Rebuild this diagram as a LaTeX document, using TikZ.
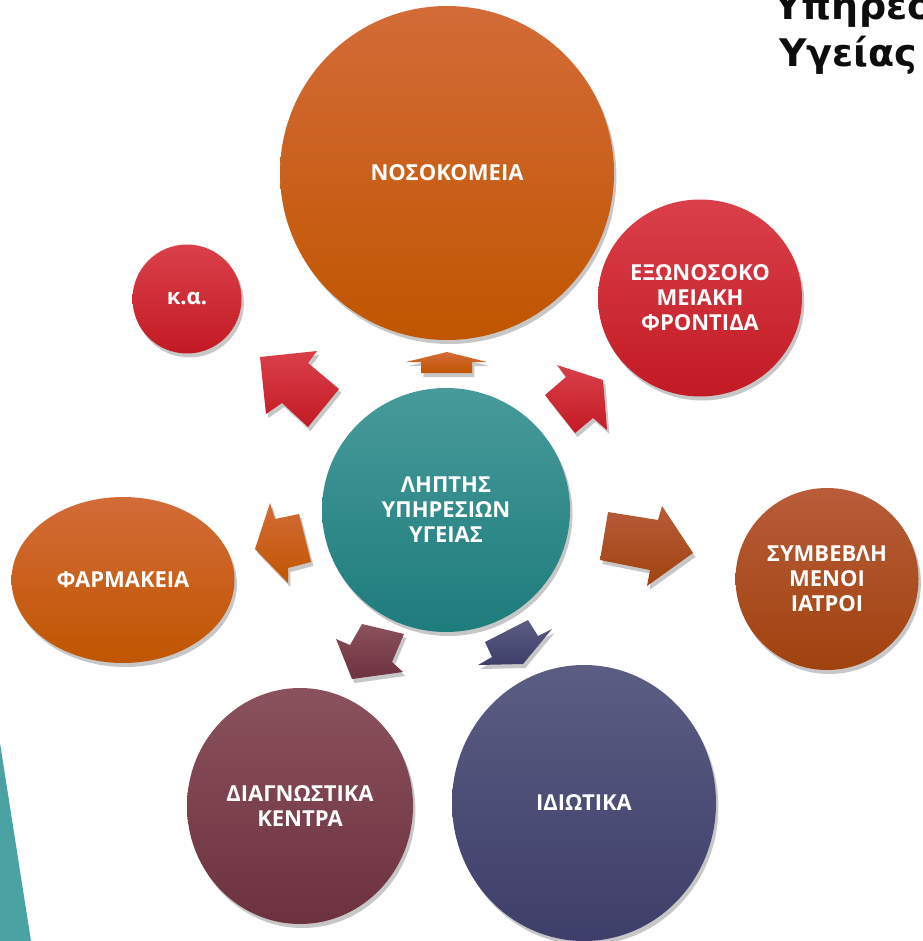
\documentclass[tikz,border=0pt]{standalone}
\usepackage{fontspec}
\setmainfont{Open Sans}
\newfontfamily\titlefont{DejaVu Sans}
\usetikzlibrary{shapes.geometric,shadows}
\definecolor{orT}{HTML}{D36B38}
\definecolor{orB}{HTML}{C05600}
\definecolor{rdT}{HTML}{DA404A}
\definecolor{rdB}{HTML}{C21A24}
\definecolor{tlT}{HTML}{489A9A}
\definecolor{tlB}{HTML}{1E7C7C}
\definecolor{brT}{HTML}{B85C3A}
\definecolor{brB}{HTML}{A0420E}
\definecolor{mrT}{HTML}{8A525C}
\definecolor{mrB}{HTML}{6D313F}
\definecolor{nvT}{HTML}{5B5D83}
\definecolor{nvB}{HTML}{3E3E6A}
\definecolor{tri}{HTML}{4AA3A2}
\begin{document}
\begin{tikzpicture}[x=0.5pt,y=-0.5pt,
  shad/.style={drop shadow={shadow xshift=1.2pt,shadow yshift=-2pt,opacity=0.22,fill=black}},
  bub/.style={ellipse,inner sep=0pt,shad,text=white,align=center,
    font=\bfseries\fontsize{11}{12.5}\selectfont},
  orange/.style={top color=orT,bottom color=orB},
  red/.style={top color=rdT,bottom color=rdB},
  teal/.style={top color=tlT,bottom color=tlB},
  brown/.style={top color=brT,bottom color=brB},
  maroon/.style={top color=mrT,bottom color=mrB},
  navy/.style={top color=nvT,bottom color=nvB},
  blockarrow/.style={shad},
  ttl/.style={anchor=base west,inner sep=0pt,text=black!95,font=\titlefont\bfseries\fontsize{19}{22}\selectfont}]
\useasboundingbox (0,0) rectangle (922,941);
\clip (0,0) rectangle (922,941);
% decorative teal triangle
\fill[tri] (0,743) -- (31,941) -- (0,941) -- cycle;
% title
\node[ttl] (t1) at (774,20) {Υπηρεσίες};
\node[ttl] (t2) at (779,67) {Υγείας};
% bubbles
\node[bub,orange,minimum width=167pt,minimum height=167pt] (nos) at (447,173) {ΝΟΣΟΚΟΜΕΙΑ};
\node[bub,red,minimum width=54.5pt,minimum height=54.5pt] (ka) at (187,299) {κ.α.};
\node[bub,red,minimum width=102pt,minimum height=98.5pt] (exo) at (700,298) {ΕΞΩΝΟΣΟΚΟ\\ΜΕΙΑΚΗ\\ΦΡΟΝΤΙΔΑ};
\node[bub,teal,minimum width=124pt,minimum height=122pt] (lip) at (446,510) {ΛΗΠΤΗΣ\\ΥΠΗΡΕΣΙΩΝ\\ΥΓΕΙΑΣ};
\node[bub,orange,minimum width=111.5pt,minimum height=83pt] (far) at (123,580) {ΦΑΡΜΑΚΕΙΑ};
\node[bub,brown,minimum width=91.5pt,minimum height=91pt] (sym) at (827,579) {ΣΥΜΒΕΒΛΗ\\ΜΕΝΟΙ\\ΙΑΤΡΟΙ};
\node[bub,maroon,minimum width=113pt,minimum height=118pt] (dia) at (300,806) {ΔΙΑΓΝΩΣΤΙΚΑ\\ΚΕΝΤΡΑ};
\node[bub,navy,minimum width=132pt,minimum height=138pt] (idi) at (584,803) {ΙΔΙΩΤΙΚΑ};
% block arrows
\path[blockarrow,orange] (447,352) -- (487,362) -- (472,362) -- (472,373) -- (421,373) -- (421,362) -- (406,362) -- cycle;
\path[blockarrow,red] (260,357) -- (317,351) -- (308,363) -- (339,389) -- (308,427) -- (282,403) -- (266,414) -- cycle;
\path[blockarrow,red] (603,380) -- (557,365) -- (566,377) -- (545,395) -- (575,433) -- (593,418) -- (607,430) -- cycle;
\path[blockarrow,brown] (608,512) -- (658,520) -- (662,506) -- (693,553) -- (647,586) -- (650,570) -- (600,560) -- cycle;
\path[blockarrow,navy] (528,620) -- (538,636) -- (552,629) -- (523,664) -- (478,665) -- (492,657) -- (485,642) -- cycle;
\path[blockarrow,maroon] (362,624) -- (404,634) -- (392,662) -- (403,672) -- (352,679) -- (336,639) -- (350,645) -- cycle;
\path[blockarrow,orange] (270,503) -- (275,519) -- (299,514) -- (311,562) -- (288,568) -- (288,583) -- (255,549) -- cycle;
\end{tikzpicture}
\end{document}
